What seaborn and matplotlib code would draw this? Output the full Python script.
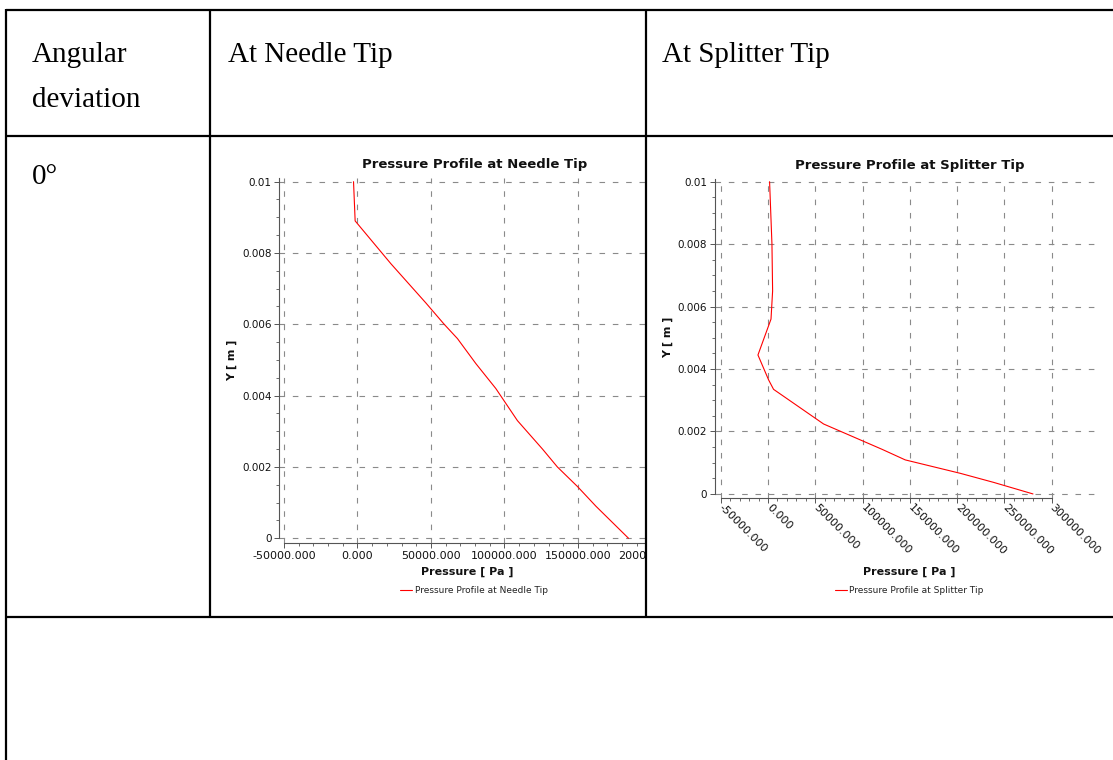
import matplotlib
matplotlib.use("Agg")
import numpy as np
import pandas as pd
import matplotlib.pyplot as plt
from matplotlib.lines import Line2D
from matplotlib.patches import Rectangle
from matplotlib.ticker import FixedLocator, MultipleLocator
import seaborn as sns

# ---------------- data ----------------
header_col1 = ["Angular", "deviation"]
header_col2 = "At Needle Tip"
header_col3 = "At Splitter Tip"
row_label = "0°"

needle_title = "Pressure Profile at Needle Tip"
splitter_title = "Pressure Profile at Splitter Tip"
x_label = "Pressure [ Pa ]"
y_label = "Y [ m ]"

needle_pressure = [-2700, -1600, 22700, 46500, 59000, 68000, 80500, 94100,
                   108800, 125900, 136000, 149700, 162200, 184400]
needle_y = [0.0100, 0.0089, 0.0077, 0.0066, 0.0060, 0.0056, 0.0049, 0.0042,
            0.0033, 0.0025, 0.0020, 0.00145, 0.0009, 0.0]

splitter_pressure = [1700, 4200, 4900, 3200, -10600, 700, 5900, 58800,
                     120500, 145100, 203300, 238500, 280100]
splitter_y = [0.0100, 0.0080, 0.0065, 0.0056, 0.00445, 0.00365, 0.00335,
              0.00224, 0.00143, 0.00109, 0.00066, 0.00037, 0.0]

needle_xticks = [-50000, 0, 50000, 100000, 150000, 200000]
splitter_xticks = [-50000, 0, 50000, 100000, 150000, 200000, 250000, 300000]
y_ticks = [0, 0.002, 0.004, 0.006, 0.008, 0.01]
y_ticklabels = ["0", "0.002", "0.004", "0.006", "0.008", "0.01"]

# ---------------- figure ----------------
sns.set_theme(style="white")
plt.rcParams["font.family"] = ["DejaVu Sans"]

W, H = 1113, 760
fig = plt.figure(figsize=(W / 100, H / 100), dpi=100)
fig.patch.set_facecolor("white")


def px_rect(l, t, r, b):
    return [l / W, 1 - b / H, (r - l) / W, (b - t) / H]


def fig_line(x0, y0, x1, y1, lw=1.6):
    fig.add_artist(Line2D([x0 / W, x1 / W], [1 - y0 / H, 1 - y1 / H],
                          transform=fig.transFigure, color="black", lw=lw,
                          solid_capstyle="butt", zorder=5))


GRID = "#8a8a8a"
AXC = "#555555"


def style_axes(ax, xticks, xlim, ylim, xspine_end, rotate):
    ax.set_xlim(*xlim)
    ax.set_ylim(*ylim)
    ax.xaxis.set_major_locator(FixedLocator(xticks))
    ax.xaxis.set_minor_locator(FixedLocator(
        np.arange(xticks[0], xspine_end + 1, 10000)))
    ax.yaxis.set_major_locator(FixedLocator(y_ticks))
    ax.yaxis.set_minor_locator(MultipleLocator(0.0005))
    ax.set_yticklabels(y_ticklabels)
    ax.set_xticklabels([f"{v:.3f}" for v in xticks])
    ax.grid(True, which="major", color=GRID, ls=(0, (5, 7)), lw=0.8)
    for s in ["top", "right"]:
        ax.spines[s].set_visible(False)
    for s in ["left", "bottom"]:
        ax.spines[s].set_color(AXC)
        ax.spines[s].set_linewidth(0.8)
    ax.spines["left"].set_bounds(0, ylim[1])
    ax.spines["bottom"].set_bounds(xticks[0], xspine_end)
    ax.tick_params(which="major", direction="out", length=3.6, width=0.7,
                   color=AXC, labelcolor="#111111", pad=2,
                   left=True, bottom=True)
    ax.tick_params(axis="y", which="major", labelsize=7.5)
    ax.tick_params(axis="x", which="major", labelsize=8)
    ax.tick_params(which="minor", direction="out", length=2.2, width=0.6,
                   color=AXC, left=True, bottom=True)
    if rotate:
        for lab in ax.get_xticklabels():
            lab.set_rotation(-45)
            lab.set_ha("left")
            lab.set_va("center")
            lab.set_rotation_mode("anchor")
    ax.set_xlabel("")
    ax.set_ylabel("")


# Needle axes
ax1 = fig.add_axes(px_rect(279.3, 178.1, 660, 543.3))
ax1.set_zorder(0)
df1 = pd.DataFrame({"p": needle_pressure, "y": needle_y})
sns.lineplot(data=df1, x="p", y="y", sort=False, estimator=None, color="red",
             lw=0.8, ax=ax1, label=needle_title)
style_axes(ax1, needle_xticks, (-53200, 205800), (-0.00014, 0.0101),
           205800, False)
ax1.text(0.514, 1.036, needle_title, transform=ax1.transAxes, ha="center",
         va="center", fontsize=9.5, fontweight="bold", color="#111111")
ax1.text(-0.124, 0.502, y_label, transform=ax1.transAxes, ha="center",
         va="center", rotation=90, fontsize=8, fontweight="bold",
         color="#111111")
ax1.text(0.493, -0.0778, x_label, transform=ax1.transAxes, ha="center",
         va="center", fontsize=8, fontweight="bold", color="#111111")
leg1 = ax1.legend(loc="center", bbox_to_anchor=(0.512, -0.130),
                  frameon=False, fontsize=6.5, handlelength=1.3,
                  handletextpad=0.3, borderpad=0, borderaxespad=0)
for t in leg1.get_texts():
    t.set_color("#222222")

# white mask clipping needle chart at the cell border
fig.add_artist(Rectangle((647 / W, 1 - 615 / H), (713 - 647) / W,
                         (615 - 137) / H, transform=fig.transFigure,
                         facecolor="white", edgecolor="none", zorder=0.5))

# Splitter axes
ax2 = fig.add_axes(px_rect(715, 178.6, 1097, 498.3))
ax2.set_zorder(1)
ax2.patch.set_alpha(0)
df2 = pd.DataFrame({"p": splitter_pressure, "y": splitter_y})
sns.lineplot(data=df2, x="p", y="y", sort=False, estimator=None, color="red",
             lw=0.8, ax=ax2, label=splitter_title)
style_axes(ax2, splitter_xticks, (-56000, 347800), (-0.00014, 0.0101),
           300000, True)
ax2.text(0.510, 1.0425, splitter_title, transform=ax2.transAxes,
         ha="center", va="center", fontsize=9.5, fontweight="bold",
         color="#111111")
ax2.text(-0.123, 0.5045, y_label, transform=ax2.transAxes, ha="center",
         va="center", rotation=90, fontsize=8, fontweight="bold",
         color="#111111")
ax2.text(0.508, -0.2296, x_label, transform=ax2.transAxes, ha="center",
         va="center", fontsize=8, fontweight="bold", color="#111111")
leg2 = ax2.legend(loc="center", bbox_to_anchor=(0.509, -0.289),
                  frameon=False, fontsize=6.5, handlelength=1.3,
                  handletextpad=0.3, borderpad=0, borderaxespad=0)
for t in leg2.get_texts():
    t.set_color("#222222")

# ---------------- table lines ----------------
fig_line(5.7, 10, W, 10)
fig_line(5.7, 135.7, W, 135.7)
fig_line(5.7, 616.7, W, 616.7)
fig_line(5.7, 9.2, 5.7, H)
fig_line(210, 10, 210, 616.7)
fig_line(646, 10, 646, 616.7)

# ---------------- header texts ----------------
serif = dict(family=["Liberation Serif", "DejaVu Serif"], fontsize=21,
             color="black", va="center", ha="left")
fig.text(32 / W, 1 - 55 / H, header_col1[0], **serif)
fig.text(32 / W, 1 - 100 / H, header_col1[1], **serif)
fig.text(228 / W, 1 - 55 / H, header_col2, **serif)
fig.text(662 / W, 1 - 55 / H, header_col3, **serif)
fig.text(32 / W, 1 - 177 / H, row_label, **serif)

fig.savefig("out.png", dpi=100, facecolor="white")
